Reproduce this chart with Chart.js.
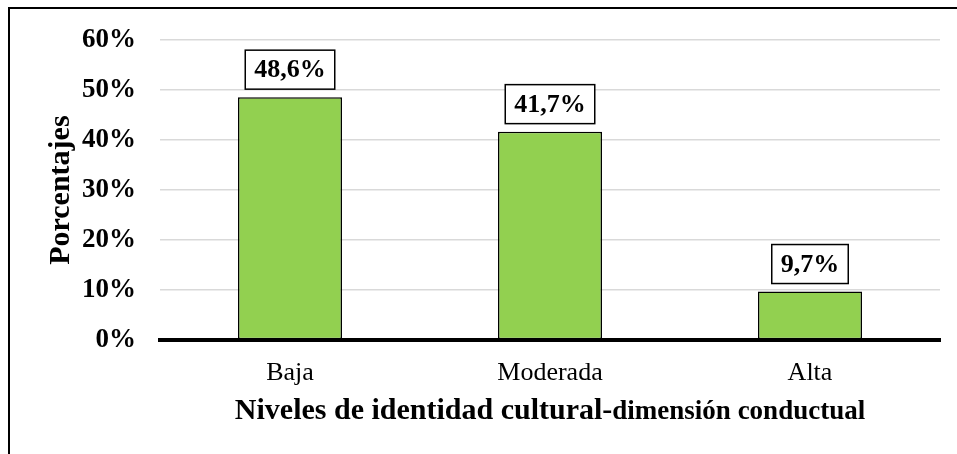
<!DOCTYPE html>
<html>
<head>
<meta charset="utf-8">
<script src="https://cdn.jsdelivr.net/npm/chart.js@4/dist/chart.umd.min.js"></script>
<style>
  html, body { margin: 0; padding: 0; background: #fff; }
  #wrap { width: 957px; height: 454px; position: relative; }
</style>
</head>
<body>
<div id="wrap"><canvas id="c" width="957" height="454"></canvas></div>
<script>
const categories = ['Baja', 'Moderada', 'Alta'];
const values = [48.6, 41.7, 9.7];
const valueLabels = ['48,6%', '41,7%', '9,7%'];
const yTitle = 'Porcentajes';
const xTitleMain = 'Niveles de identidad cultural-';
const xTitleSub = 'dimensión conductual';

const SERIF = '"Times New Roman", "Liberation Serif", Times, serif';

const framePlugin = {
  id: 'frame',
  beforeDraw(chart) {
    const ctx = chart.ctx;
    ctx.save();
    ctx.fillStyle = '#fff';
    ctx.fillRect(0, 0, chart.width, chart.height);
    ctx.strokeStyle = '#000';
    ctx.lineWidth = 2;
    ctx.beginPath();
    ctx.moveTo(9, chart.height + 2);
    ctx.lineTo(9, 8);
    ctx.lineTo(chart.width + 2, 8);
    ctx.stroke();
    ctx.restore();
  }
};

const labelPlugin = {
  id: 'boxLabels',
  afterDatasetsDraw(chart) {
    const ctx = chart.ctx;
    const meta = chart.getDatasetMeta(0);
    ctx.save();
    ctx.font = 'bold 26px ' + SERIF;
    ctx.textAlign = 'center';
    ctx.textBaseline = 'middle';
    meta.data.forEach((bar, i) => {
      const txt = valueLabels[i];
      const w = ctx.measureText(txt).width + 18;
      const h = 39;
      const bottom = bar.y - 8;
      const left = bar.x - w / 2;
      ctx.fillStyle = '#fff';
      ctx.fillRect(left, bottom - h, w, h);
      ctx.strokeStyle = '#000';
      ctx.lineWidth = 1.5;
      ctx.strokeRect(left, bottom - h, w, h);
      ctx.fillStyle = '#000';
      ctx.fillText(txt, bar.x, bottom - h / 2 + 1);
    });
    ctx.restore();
  }
};

const xTitlePlugin = {
  id: 'xTitle',
  afterDraw(chart) {
    const ctx = chart.ctx;
    const ca = chart.chartArea;
    ctx.save();
    const f1 = 'bold 30px ' + SERIF;
    const f2 = 'bold 27px ' + SERIF;
    ctx.font = f1;
    const w1 = ctx.measureText(xTitleMain).width;
    ctx.font = f2;
    const w2 = ctx.measureText(xTitleSub).width;
    const cx = (ca.left + ca.right) / 2;
    const x0 = cx - (w1 + w2) / 2;
    const y = 419;
    ctx.fillStyle = '#000';
    ctx.textAlign = 'left';
    ctx.textBaseline = 'alphabetic';
    ctx.font = f1;
    ctx.fillText(xTitleMain, x0, y);
    ctx.font = f2;
    ctx.fillText(xTitleSub, x0 + w1, y);
    ctx.restore();
  }
};

new Chart(document.getElementById('c'), {
  type: 'bar',
  data: {
    labels: categories,
    datasets: [{
      data: values,
      backgroundColor: '#92D050',
      borderColor: '#000',
      borderWidth: 1.5,
      borderSkipped: false,
      barPercentage: 0.4,
      categoryPercentage: 1.0
    }]
  },
  options: {
    responsive: false,
    animation: false,
    events: [],
    layout: { padding: { left: 0, right: 17, top: 35, bottom: 0 } },
    plugins: {
      legend: { display: false },
      tooltip: { enabled: false }
    },
    scales: {
      x: {
        grid: { display: false, drawTicks: false },
        border: { display: true, color: '#000', width: 4, z: 1 },
        ticks: {
          color: '#000',
          padding: 18,
          font: { family: SERIF, size: 26 }
        },
        afterFit(scale) { scale.height = 114; }
      },
      y: {
        min: 0,
        max: 60,
        grid: { color: '#d9d9d9', lineWidth: 1.5, drawTicks: false },
        border: { display: false },
        ticks: {
          stepSize: 10,
          color: '#000',
          padding: 24,
          font: { family: SERIF, size: 27, weight: 'bold' },
          callback: (v) => v + '%'
        },
        title: {
          display: true,
          text: yTitle,
          color: '#000',
          font: { family: SERIF, size: 30, weight: 'bold' },
          padding: { top: 43, bottom: 0 }
        },
        afterFit(scale) { scale.width = 160; }
      }
    }
  },
  plugins: [framePlugin, labelPlugin, xTitlePlugin]
});
</script>
</body>
</html>
